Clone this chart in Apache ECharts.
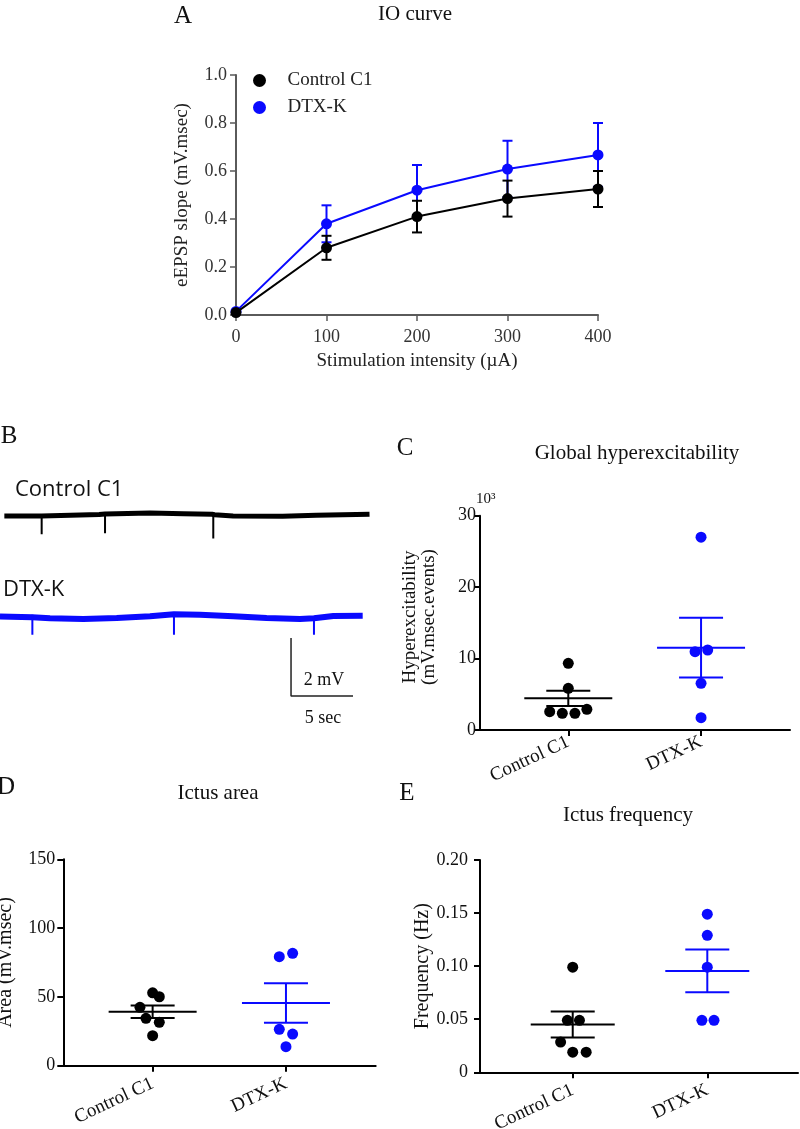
<!DOCTYPE html>
<html><head><meta charset="utf-8">
<script src="https://cdn.jsdelivr.net/npm/echarts@6/dist/echarts.min.js"></script>
<style>html,body{margin:0;padding:0;background:#fff}#c{width:800px;height:1129px}</style>
</head><body><div id="c"></div>
<script>
// ================= DATA =================
const groups = ['Control C1', 'DTX-K'];

// Panel A - IO curve
const ioIntensity = [0, 100, 200, 300, 400];
const ioCtrlMean = [0.01, 0.28, 0.41, 0.485, 0.525];
const ioCtrlSem  = [0.0, 0.05, 0.066, 0.075, 0.075];
const ioDtxMean  = [0.015, 0.38, 0.52, 0.608, 0.667];
const ioDtxSem   = [0.0, 0.077, 0.105, 0.118, 0.133];

// Panel B - example traces (time in s, deflection from baseline in mV)
const ctrlBaseT = [0.35, 3.36, 8.0, 8.47, 12.1, 14.8, 17.1, 17.3, 18.8, 22.8, 25.5, 29.8];
const ctrlBaseV = [0.0, 0.0, 0.05, 0.07, 0.10, 0.08, 0.06, 0.04, 0.0, -0.01, 0.02, 0.06];
const ctrlSpikeT = [3.36, 8.47, 17.2];
const ctrlSpikeTop = [0.02, 0.12, 0.07];
const ctrlSpikeBottom = [-0.63, -0.6, -0.78];
const dtxBaseT  = [0, 2.61, 4.03, 6.72, 9.41, 12.1, 14.03, 16.13, 18.82, 21.5, 24.19, 25.32, 26.88, 29.25];
const dtxBaseV  = [0, -0.02, -0.06, -0.08, -0.05, 0.01, 0.08, 0.06, 0.01, -0.05, -0.08, -0.06, 0.02, 0.03];
const dtxSpikeT = [2.61, 14.03, 25.32];
const dtxSpikeTop = [0.06, 0.12, 0.0];
const dtxSpikeBottom = [-0.63, -0.63, -0.63];
const scaleBarMv = 2;
const scaleBarSec = 5;

// Panel C - Global hyperexcitability (x10^3 mV.msec.events)
const hyperCtrl    = [9.34, 5.84, 2.56, 2.33, 2.33, 2.9];
const hyperCtrlJit = [0, 0, -0.14, -0.045, 0.05, 0.14];
const hyperDtx     = [27.0, 10.97, 11.2, 6.54, 1.72];
const hyperDtxJit  = [0, -0.045, 0.05, 0, 0];
const hyperMean = [4.43, 11.53];
const hyperSem  = [1.07, 4.18];

// Panel D - Ictus area (mV.msec)
const areaCtrl    = [53.0, 50.1, 42.4, 34.4, 31.5, 21.8];
const areaCtrlJit = [0, 0.05, -0.095, -0.05, 0.05, 0];
const areaDtx     = [79.2, 81.7, 26.4, 23.0, 13.8];
const areaDtxJit  = [-0.05, 0.05, -0.05, 0.05, 0];
const areaMean = [39.2, 45.6];
const areaSem  = [4.5, 14.35];

// Panel E - Ictus frequency (Hz)
const freqCtrl    = [0.099, 0.049, 0.049, 0.0285, 0.019, 0.019];
const freqCtrlJit = [0, -0.04, 0.05, -0.09, 0, 0.1];
const freqDtx     = [0.149, 0.129, 0.099, 0.049, 0.049];
const freqDtxJit  = [0, 0, 0, -0.04, 0.05];
const freqMean = [0.045, 0.0955];
const freqSem  = [0.0122, 0.0202];

// ================= STYLE / LAYOUT =================
const SERIF = "'Liberation Serif', 'Times New Roman', serif";
const SANS = "'Open Sans', 'Liberation Sans', sans-serif";
const BLACK = '#000000';
const BLUE = '#0a0aff';
const colors = [BLACK, BLUE];
const ctrlTraceOffset = 6.45;
const dtxTraceOffset = 2.98;
const scaleBarOrigin = [23.47, 0.24];

const chart = echarts.init(document.getElementById('c'), null, {renderer: 'canvas'});

function errRender(halfCap, color) {
  return function (params, api) {
    const x = api.value(0), m = api.value(1), s = api.value(2);
    const t = api.coord([x, m + s]), b = api.coord([x, m - s]);
    const style = {stroke: color, lineWidth: 2};
    return {type: 'group', children: [
      {type: 'line', shape: {x1: t[0], y1: t[1], x2: b[0], y2: b[1]}, style},
      {type: 'line', shape: {x1: t[0] - halfCap, y1: t[1], x2: t[0] + halfCap, y2: t[1]}, style},
      {type: 'line', shape: {x1: b[0] - halfCap, y1: b[1], x2: b[0] + halfCap, y2: b[1]}, style}
    ]};
  };
}
function meanSemRender(halfMean, halfCap) {
  return function (params, api) {
    const x = api.value(0), m = api.value(1), s = api.value(2);
    const p = api.coord([x, m]), t = api.coord([x, m + s]), b = api.coord([x, m - s]);
    const style = {stroke: colors[params.dataIndex], lineWidth: 2};
    return {type: 'group', children: [
      {type: 'line', shape: {x1: p[0] - halfMean, y1: p[1], x2: p[0] + halfMean, y2: p[1]}, style},
      {type: 'line', shape: {x1: t[0], y1: t[1], x2: b[0], y2: b[1]}, style},
      {type: 'line', shape: {x1: t[0] - halfCap, y1: t[1], x2: t[0] + halfCap, y2: t[1]}, style},
      {type: 'line', shape: {x1: b[0] - halfCap, y1: b[1], x2: b[0] + halfCap, y2: b[1]}, style}
    ]};
  };
}
const zip = (xs, ys, f) => xs.map((x, i) => f(x, ys[i], i));
function spikeData(ts, tops, bottoms, offset) {
  const out = [];
  ts.forEach((t, i) => { out.push([t, tops[i] + offset], [t, bottoms[i] + offset], '-'); });
  return out;
}

function catXAxis(gridIndex, min, max, margin) {
  return {
    type: 'value', gridIndex, min, max,
    axisLine: {show: true, lineStyle: {color: BLACK, width: 2}},
    axisTick: {show: true, customValues: [1, 2], length: 6, lineStyle: {color: BLACK, width: 2}},
    axisLabel: {customValues: [1, 2], formatter: v => groups[Math.round(v) - 1], rotate: 25, margin,
      fontFamily: SERIF, fontSize: 19, color: '#111'},
    splitLine: {show: false}
  };
}
function valYAxis(gridIndex, max, interval, fmt, margin, extra) {
  return Object.assign({
    type: 'value', gridIndex, min: 0, max, interval,
    axisLine: {show: true, lineStyle: {color: BLACK, width: 2}},
    axisTick: {show: true, length: 6, lineStyle: {color: BLACK, width: 2}},
    axisLabel: {formatter: fmt, margin, fontFamily: SERIF, fontSize: 18, color: '#111'},
    splitLine: {show: false}
  }, extra || {});
}

const graphicText = (text, x, y, size, font) => ({
  type: 'text', x, y,
  style: {text, fontFamily: font, fontSize: size, fill: '#111', align: 'center', verticalAlign: 'middle'}
});

const gridBase = {outerBoundsMode: 'none', containLabel: false};
const option = {
  animation: false,
  backgroundColor: '#fff',
  grid: [
    Object.assign({left: 236, top: 75, width: 362, height: 240}, gridBase),      // A
    Object.assign({left: 0, top: 500, width: 372, height: 203}, gridBase),       // B
    Object.assign({left: 480, top: 515.7, width: 310, height: 214.3}, gridBase), // C
    Object.assign({left: 63.3, top: 859.3, width: 312.4, height: 206.4}, gridBase), // D
    Object.assign({left: 480, top: 860, width: 318, height: 212.3}, gridBase)    // E
  ],
  legend: {
    data: groups, orient: 'vertical', left: 248, top: 66, icon: 'circle',
    itemWidth: 46, itemHeight: 13, itemGap: 8,
    textStyle: {fontFamily: SERIF, fontSize: 19, color: '#222'}
  },
  xAxis: [
    {type: 'value', gridIndex: 0, min: 0, max: 400, interval: 100,
      axisLine: {show: true, lineStyle: {color: '#5a5a5a', width: 2}},
      axisTick: {show: true, length: 6, lineStyle: {color: '#5a5a5a', width: 1.5}},
      axisLabel: {fontFamily: SERIF, fontSize: 18, color: '#333', margin: 13},
      splitLine: {show: false},
      name: 'Stimulation intensity (µA)', nameLocation: 'middle', nameGap: 37,
      nameTextStyle: {fontFamily: SERIF, fontSize: 19, color: '#222'}},
    {type: 'value', gridIndex: 1, min: 0, max: 30, show: false},
    catXAxis(2, 0.335, 2.67, 11),
    catXAxis(3, 0.33, 2.673, 17),
    catXAxis(4, 0.311, 2.674, 17)
  ],
  yAxis: [
    {type: 'value', gridIndex: 0, min: 0, max: 1, interval: 0.2,
      axisLine: {show: true, lineStyle: {color: '#5a5a5a', width: 2}},
      axisTick: {show: true, length: 6, lineStyle: {color: '#5a5a5a', width: 1.5}},
      axisLabel: {formatter: v => v.toFixed(1), fontFamily: SERIF, fontSize: 18, color: '#333', margin: 9},
      splitLine: {show: false},
      name: 'eEPSP slope (mV.msec)', nameLocation: 'middle', nameGap: 44,
      nameTextStyle: {fontFamily: SERIF, fontSize: 19, color: '#222'}},
    {type: 'value', gridIndex: 1, min: 0, max: 7, show: false},
    valYAxis(2, 30, 10, v => String(v), 4, {name: '10³', nameLocation: 'end', nameGap: 6,
      nameTextStyle: {fontFamily: SERIF, fontSize: 15, color: '#111', align: 'left', padding: [0, 0, 0, -4]}}),
    valYAxis(3, 150, 50, v => String(v), 8, {name: 'Area (mV.msec)', nameLocation: 'middle', nameGap: 48,
      nameTextStyle: {fontFamily: SERIF, fontSize: 20, color: '#111'}}),
    valYAxis(4, 0.2, 0.05, v => v === 0 ? '0' : v.toFixed(2), 12, {name: 'Frequency (Hz)', nameLocation: 'middle', nameGap: 47,
      nameTextStyle: {fontFamily: SERIF, fontSize: 20, color: '#111'}})
  ],
  graphic: [
    graphicText('A', 183, 16, 25, SERIF),
    graphicText('IO curve', 415, 14, 21, SERIF),
    graphicText('B', 9, 436, 25, SERIF),
    {type: 'text', x: 15, y: 490, style: {text: 'Control C1', fontFamily: SANS, fontSize: 22, fill: '#111', align: 'left', verticalAlign: 'middle'}},
    {type: 'text', x: 3, y: 590, style: {text: 'DTX-K', fontFamily: SANS, fontSize: 22, fill: '#111', align: 'left', verticalAlign: 'middle'}},
    graphicText('2 mV', 324, 680, 18, SERIF),
    graphicText('5 sec', 323, 718, 18, SERIF),
    graphicText('C', 405, 448, 25, SERIF),
    graphicText('Global hyperexcitability', 637, 453, 21, SERIF),
    {type: 'text', x: 420, y: 617, rotation: Math.PI / 2,
      style: {text: 'Hyperexcitability\n(mV.msec.events)', fontFamily: SERIF, fontSize: 19, lineHeight: 19, fill: '#111', align: 'center', verticalAlign: 'middle'}},
    graphicText('D', 6, 787, 25, SERIF),
    graphicText('Ictus area', 218, 793, 21, SERIF),
    graphicText('E', 407, 793, 25, SERIF),
    graphicText('Ictus frequency', 628, 815, 21, SERIF)
  ],
  series: [
    // Panel A
    {type: 'custom', xAxisIndex: 0, yAxisIndex: 0, renderItem: errRender(5, BLUE), z: 2,
      data: ioIntensity.map((x, i) => [x, ioDtxMean[i], ioDtxSem[i]])},
    {name: 'DTX-K', type: 'line', xAxisIndex: 0, yAxisIndex: 0, symbol: 'circle', symbolSize: 11, z: 3,
      lineStyle: {color: BLUE, width: 2}, itemStyle: {color: BLUE},
      data: zip(ioIntensity, ioDtxMean, (x, y) => [x, y])},
    {type: 'custom', xAxisIndex: 0, yAxisIndex: 0, renderItem: errRender(5, BLACK), z: 4,
      data: ioIntensity.map((x, i) => [x, ioCtrlMean[i], ioCtrlSem[i]])},
    {name: 'Control C1', type: 'line', xAxisIndex: 0, yAxisIndex: 0, symbol: 'circle', symbolSize: 11, z: 5,
      lineStyle: {color: BLACK, width: 2}, itemStyle: {color: BLACK},
      data: zip(ioIntensity, ioCtrlMean, (x, y) => [x, y])},
    // Panel B
    {type: 'line', xAxisIndex: 1, yAxisIndex: 1, showSymbol: false, silent: true,
      lineStyle: {color: BLACK, width: 5},
      data: zip(ctrlBaseT, ctrlBaseV, (t, v) => [t, v + ctrlTraceOffset])},
    {type: 'line', xAxisIndex: 1, yAxisIndex: 1, showSymbol: false, silent: true, connectNulls: false,
      lineStyle: {color: BLACK, width: 2},
      data: spikeData(ctrlSpikeT, ctrlSpikeTop, ctrlSpikeBottom, ctrlTraceOffset)},
    {type: 'line', xAxisIndex: 1, yAxisIndex: 1, showSymbol: false, silent: true,
      lineStyle: {color: BLUE, width: 6},
      data: zip(dtxBaseT, dtxBaseV, (t, v) => [t, v + dtxTraceOffset])},
    {type: 'line', xAxisIndex: 1, yAxisIndex: 1, showSymbol: false, silent: true, connectNulls: false,
      lineStyle: {color: BLUE, width: 2},
      data: spikeData(dtxSpikeT, dtxSpikeTop, dtxSpikeBottom, dtxTraceOffset)},
    {type: 'line', xAxisIndex: 1, yAxisIndex: 1, showSymbol: false, silent: true,
      lineStyle: {color: '#222', width: 1.5},
      data: [[scaleBarOrigin[0], scaleBarOrigin[1] + scaleBarMv], scaleBarOrigin,
             [scaleBarOrigin[0] + scaleBarSec, scaleBarOrigin[1]]]},
    // Panel C
    {type: 'custom', xAxisIndex: 2, yAxisIndex: 2, renderItem: meanSemRender(44, 22),
      data: hyperMean.map((m, i) => [i + 1, m, hyperSem[i]])},
    {type: 'scatter', xAxisIndex: 2, yAxisIndex: 2, symbolSize: 11, itemStyle: {color: BLACK, opacity: 1},
      data: zip(hyperCtrl, hyperCtrlJit, (v, j) => [1 + j, v])},
    {type: 'scatter', xAxisIndex: 2, yAxisIndex: 2, symbolSize: 11, itemStyle: {color: BLUE, opacity: 1},
      data: zip(hyperDtx, hyperDtxJit, (v, j) => [2 + j, v])},
    // Panel D
    {type: 'custom', xAxisIndex: 3, yAxisIndex: 3, renderItem: meanSemRender(44, 22),
      data: areaMean.map((m, i) => [i + 1, m, areaSem[i]])},
    {type: 'scatter', xAxisIndex: 3, yAxisIndex: 3, symbolSize: 11, itemStyle: {color: BLACK, opacity: 1},
      data: zip(areaCtrl, areaCtrlJit, (v, j) => [1 + j, v])},
    {type: 'scatter', xAxisIndex: 3, yAxisIndex: 3, symbolSize: 11, itemStyle: {color: BLUE, opacity: 1},
      data: zip(areaDtx, areaDtxJit, (v, j) => [2 + j, v])},
    // Panel E
    {type: 'custom', xAxisIndex: 4, yAxisIndex: 4, renderItem: meanSemRender(42, 22),
      data: freqMean.map((m, i) => [i + 1, m, freqSem[i]])},
    {type: 'scatter', xAxisIndex: 4, yAxisIndex: 4, symbolSize: 11, itemStyle: {color: BLACK, opacity: 1},
      data: zip(freqCtrl, freqCtrlJit, (v, j) => [1 + j, v])},
    {type: 'scatter', xAxisIndex: 4, yAxisIndex: 4, symbolSize: 11, itemStyle: {color: BLUE, opacity: 1},
      data: zip(freqDtx, freqDtxJit, (v, j) => [2 + j, v])}
  ]
};
chart.setOption(option);
</script></body></html>
